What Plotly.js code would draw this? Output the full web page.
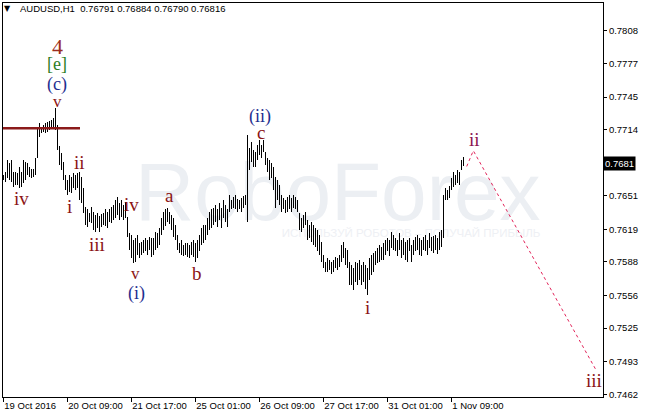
<!DOCTYPE html>
<html><head><meta charset="utf-8">
<script src="https://cdn.plot.ly/plotly-3.0.1.min.js"></script>
<style>html,body{margin:0;padding:0;background:#fff;} #chart{width:646px;height:414px;}</style>
</head><body><div id="chart"></div>
<script>
const symbol = "AUDUSD,H1";
const headerOHLC = [0.76791, 0.76884, 0.76790, 0.76816];

const highs = [
0.7671,0.7674,0.7685,0.7682,0.7685,0.7674,0.7674,0.7673,0.7678,0.7674,
0.7685,0.7683,0.7682,0.7678,0.7677,0.7677,0.7687,0.7716,0.7720,0.7717,
0.7718,0.7720,0.7721,0.7722,0.7723,0.7725,0.7735,0.7718,0.7698,0.7692,
0.7683,0.7671,0.7666,0.7671,0.7669,0.7673,0.7671,0.7673,0.7674,0.7669,
0.7658,0.7640,0.7638,0.7635,0.7640,0.7636,0.7633,0.7635,0.7632,0.7634,
0.7635,0.7638,0.7636,0.7638,0.7640,0.7642,0.7647,0.7650,0.7644,0.7647,
0.7642,0.7645,0.7631,0.7616,0.7614,0.7609,0.7611,0.7614,0.7606,0.7607,
0.7609,0.7611,0.7609,0.7612,0.7611,0.7611,0.7617,0.7616,0.7620,0.7630,
0.7636,0.7638,0.7639,0.7636,0.7633,0.7630,0.7623,0.7614,0.7606,0.7609,
0.7604,0.7606,0.7606,0.7604,0.7607,0.7609,0.7606,0.7609,0.7614,0.7620,
0.7623,0.7623,0.7630,0.7636,0.7638,0.7639,0.7642,0.7638,0.7644,0.7639,
0.7647,0.7642,0.7638,0.7652,0.7647,0.7650,0.7652,0.7648,0.7647,0.7649,
0.7651,0.7652,0.7709,0.7697,0.7702,0.7695,0.7693,0.7699,0.7704,0.7699,
0.7704,0.7693,0.7687,0.7685,0.7682,0.7678,0.7669,0.7666,0.7661,0.7652,
0.7649,0.7647,0.7650,0.7652,0.7649,0.7652,0.7650,0.7647,0.7635,0.7630,
0.7633,0.7636,0.7628,0.7623,0.7626,0.7623,0.7620,0.7618,0.7614,0.7607,
0.7595,0.7588,0.7592,0.7590,0.7588,0.7590,0.7593,0.7592,0.7595,0.7604,
0.7607,0.7601,0.7599,0.7588,0.7585,0.7582,0.7588,0.7587,0.7590,0.7585,
0.7588,0.7585,0.7582,0.7592,0.7595,0.7597,0.7598,0.7601,0.7604,0.7602,
0.7606,0.7609,0.7611,0.7609,0.7617,0.7614,0.7611,0.7609,0.7616,0.7609,
0.7611,0.7607,0.7609,0.7611,0.7604,0.7609,0.7612,0.7614,0.7611,0.7609,
0.7612,0.7614,0.7609,0.7616,0.7612,0.7613,0.7614,0.7611,0.7617,0.7618,
0.7652,0.7658,0.7657,0.7660,0.7668,0.7674,0.7671,0.7676,0.7674,0.7685,0.76884
];
const lows = [
0.7666,0.7664,0.7668,0.7666,0.7664,0.7659,0.7661,0.7661,0.7658,0.7659,
0.7663,0.7666,0.7671,0.7669,0.7668,0.7669,0.7671,0.7687,0.7707,0.7711,
0.7712,0.7711,0.7712,0.7714,0.7716,0.7716,0.7714,0.7695,0.7680,0.7676,
0.7666,0.7657,0.7652,0.7655,0.7654,0.7658,0.7657,0.7658,0.7647,0.7644,
0.7635,0.7623,0.7621,0.7626,0.7625,0.7618,0.7617,0.7620,0.7617,0.7621,
0.7623,0.7622,0.7620,0.7626,0.7625,0.7628,0.7630,0.7633,0.7628,0.7631,
0.7628,0.7630,0.7612,0.7599,0.7592,0.7587,0.7588,0.7595,0.7592,0.7595,
0.7597,0.7598,0.7595,0.7599,0.7593,0.7595,0.7599,0.7601,0.7604,0.7614,
0.7618,0.7622,0.7626,0.7624,0.7618,0.7612,0.7609,0.7599,0.7597,0.7595,
0.7594,0.7595,0.7593,0.7592,0.7595,0.7593,0.7588,0.7592,0.7598,0.7604,
0.7606,0.7609,0.7614,0.7618,0.7620,0.7623,0.7626,0.7621,0.7628,0.7620,
0.7630,0.7626,0.7621,0.7636,0.7638,0.7639,0.7638,0.7636,0.7638,0.7636,
0.7639,0.7642,0.7626,0.7676,0.7683,0.7678,0.7678,0.7685,0.7690,0.7687,
0.7693,0.7680,0.7674,0.7666,0.7668,0.7657,0.7639,0.7647,0.7642,0.7636,
0.7638,0.7635,0.7636,0.7638,0.7636,0.7639,0.7638,0.7636,0.7618,0.7617,
0.7620,0.7623,0.7609,0.7611,0.7607,0.7604,0.7602,0.7598,0.7595,0.7588,
0.7582,0.7578,0.7578,0.7580,0.7577,0.7578,0.7582,0.7580,0.7583,0.7588,
0.7592,0.7585,0.7582,0.7566,0.7566,0.7561,0.7569,0.7566,0.7571,0.7566,
0.7569,0.7562,0.7557,0.7571,0.7576,0.7578,0.7585,0.7587,0.7588,0.7590,
0.7590,0.7595,0.7598,0.7594,0.7601,0.7599,0.7598,0.7594,0.7599,0.7592,
0.7595,0.7590,0.7588,0.7598,0.7588,0.7595,0.7598,0.7599,0.7595,0.7594,
0.7599,0.7598,0.7595,0.7601,0.7598,0.7597,0.7599,0.7596,0.7599,0.7602,
0.7611,0.7647,0.7647,0.7649,0.7657,0.7659,0.7661,0.7663,0.7661,0.7676,0.76790
];

const xTickBars = [0, 32, 64, 96, 128, 160, 192, 224];
const xTickLabels = ["19 Oct 2016", "20 Oct 09:00", "21 Oct 17:00", "25 Oct 01:00", "26 Oct 09:00", "27 Oct 17:00", "31 Oct 01:00", "1 Nov 09:00"];
const yTickValues = [0.7808, 0.7777, 0.7745, 0.7714, 0.7651, 0.7619, 0.7588, 0.7556, 0.7525, 0.7493, 0.7462];

const levelPrice = 0.77153;
const levelEndBar = 38.35;

const forecastBars = [231.7, 235, 296.4];
const forecastPrices = [0.7679, 0.7694, 0.7485];

const waveText  = ["4", "[e]", "(c)", "v", "iv", "i", "ii", "iii", "iv", "v", "(i)", "a", "b", "(ii)", "c", "i", "ii", "iii"];
const waveKind  = ["big", "green", "blue", "small", "red", "red", "red", "red", "red", "small", "blue", "red", "red", "blue", "red", "red", "magenta", "red"];
const waveBar   = [26.85, 26.85, 26.85, 26.85, 8.85, 32.85, 37.85, 46.85, 63.85, 65.85, 66.35, 82.85, 96.85, 128.35, 128.85, 181.85, 235.35, 295.35];
const wavePrice = [0.77928, 0.77766, 0.77566, 0.77413, 0.76489, 0.76404, 0.76823, 0.76042, 0.76432, 0.75766, 0.75584, 0.76518, 0.75766, 0.77270, 0.77109, 0.75442, 0.77042, 0.74747];

const kindStyle = {
  big:     {color: '#9b2d20', size: 22},
  green:   {color: '#2e7d1f', size: 18},
  blue:    {color: '#1f2f8f', size: 18},
  red:     {color: '#8b1414', size: 19},
  small:   {color: '#8b1414', size: 17},
  magenta: {color: '#8b1450', size: 19}
};

const barIdx = highs.map((_, i) => i);
const ranges = highs.map((h, i) => h - lows[i]);

const data = [
  {type: 'bar', x: barIdx, base: lows, y: ranges, width: 0.5,
   marker: {color: '#000', line: {width: 0}}, hoverinfo: 'skip'},
  {type: 'scatter', mode: 'lines', x: forecastBars, y: forecastPrices,
   line: {color: '#e2245a', width: 1, dash: 'dot'}, hoverinfo: 'skip'}
];

const annotations = waveText.map((t, i) => ({
  xref: 'x', yref: 'y', x: waveBar[i], y: wavePrice[i], text: t, showarrow: false,
  xanchor: 'center', yanchor: 'middle', borderpad: 0,
  font: {family: 'Liberation Serif, Times New Roman, serif', size: kindStyle[waveKind[i]].size, color: kindStyle[waveKind[i]].color}
}));

const fmt = v => v.toFixed(5);
annotations.push({xref: 'paper', yref: 'paper', x: 0.0083, y: 0.985, xanchor: 'center', yanchor: 'middle',
  text: '▼', showarrow: false, font: {family: 'DejaVu Sans, sans-serif', size: 8, color: '#000'}});
annotations.push({xref: 'paper', yref: 'paper', x: 0.025, y: 0.985, xanchor: 'left', yanchor: 'middle',
  text: symbol + '&nbsp;&nbsp;' + headerOHLC.map(fmt).join(' '), showarrow: false,
  font: {family: 'Liberation Sans, Arial, sans-serif', size: 9.5, color: '#000'}});
annotations.push({xref: 'paper', yref: 'y', x: 1, y: headerOHLC[3], xanchor: 'left', yanchor: 'middle',
  text: (Math.floor(headerOHLC[3] * 1e4) / 1e4).toFixed(4), showarrow: false, bgcolor: '#000', borderpad: 1,
  font: {family: 'Liberation Sans, Arial, sans-serif', size: 9.5, color: '#fff'}});

const shapes = [
  {type: 'rect', xref: 'paper', yref: 'paper', x0: 0.229, x1: 0.887, y0: 0.45, y1: 0.636, layer: 'below',
   line: {width: 0}, fillcolor: 'rgba(0,0,0,0)',
   label: {text: 'RoboForex', textposition: 'middle center',
     font: {family: 'Liberation Sans, sans-serif', size: 82, color: '#eceff3'}}},
  {type: 'rect', xref: 'paper', yref: 'paper', x0: 0.45, x1: 0.91, y0: 0.40, y1: 0.44, layer: 'below',
   line: {width: 0}, fillcolor: 'rgba(0,0,0,0)',
   label: {text: 'ИСПОЛЬЗУЙ РОБОТОВ – ПОЛУЧАЙ ПРИБЫЛЬ', textposition: 'middle center',
     font: {family: 'Liberation Sans, sans-serif', size: 11.5, color: '#eef0f4'}}},
  {type: 'line', xref: 'x', yref: 'y', x0: -0.15, x1: levelEndBar, y0: levelPrice, y1: levelPrice,
   line: {color: '#8b1a1a', width: 2.5}}
];

const layout = {
  width: 646, height: 414,
  margin: {l: 3, r: 43, t: 3, b: 17, pad: 0},
  paper_bgcolor: '#fff', plot_bgcolor: '#fff',
  showlegend: false,
  font: {family: 'Liberation Sans, Arial, sans-serif', size: 9.5, color: '#000'},
  xaxis: {range: [-0.15, 299.85], showgrid: false, zeroline: false, showline: true, linecolor: '#000', linewidth: 1,
    mirror: true, ticks: 'outside', ticklen: 4, tickcolor: '#000', tickwidth: 1,
    tickvals: xTickBars, ticktext: xTickLabels, ticklabelposition: 'outside right',
    tickfont: {size: 9.5, color: '#000'}, automargin: false, fixedrange: true},
  yaxis: {range: [0.745942, 0.783466], side: 'right', showgrid: false, zeroline: false, showline: true,
    linecolor: '#000', linewidth: 1, mirror: true, ticks: 'outside', ticklen: 3, tickcolor: '#000',
    tickvals: yTickValues, ticktext: yTickValues.map(v => v.toFixed(4)),
    tickfont: {size: 9.5, color: '#000'}, automargin: false, fixedrange: true},
  bargap: 0,
  shapes: shapes,
  annotations: annotations
};

Plotly.newPlot('chart', data, layout, {displayModeBar: false, staticPlot: true});
</script>
</body></html>
